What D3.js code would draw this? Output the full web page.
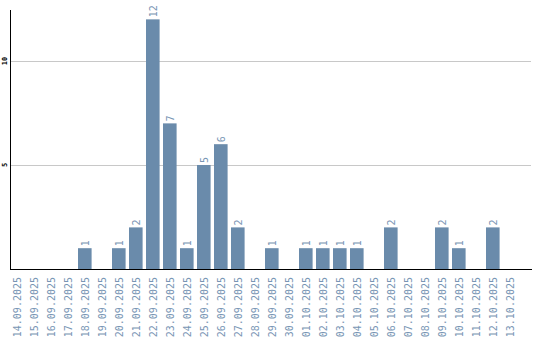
<!DOCTYPE html>
<html>
<head>
<meta charset="utf-8">
<script src="https://cdn.jsdelivr.net/npm/d3@7"></script>
<style>
  body { margin: 0; background: #fff; }
  svg { display: block; }
  .lbl { font-family: "DejaVu Sans Mono", monospace; font-size: 10px; fill: #7895b4; }
  .ytick { font-family: "DejaVu Sans Mono", monospace; font-size: 7px; font-weight: bold; fill: #000; }
</style>
</head>
<body>
<div id="chart"></div>
<script>
/* Data ***********************************************************************/

var dates = ['14.09.2025', '15.09.2025', '16.09.2025', '17.09.2025', '18.09.2025',
             '19.09.2025', '20.09.2025', '21.09.2025', '22.09.2025', '23.09.2025',
             '24.09.2025', '25.09.2025', '26.09.2025', '27.09.2025', '28.09.2025',
             '29.09.2025', '30.09.2025', '01.10.2025', '02.10.2025', '03.10.2025',
             '04.10.2025', '05.10.2025', '06.10.2025', '07.10.2025', '08.10.2025',
             '09.10.2025', '10.10.2025', '11.10.2025', '12.10.2025', '13.10.2025'];

var counts = [0, 0, 0, 0, 1, 0, 1, 2, 12, 7,
              1, 5, 6, 2, 0, 1, 0, 1, 1, 1,
              1, 0, 2, 0, 0, 2, 1, 0, 2, 0];

var ytick_values = [5, 10];

/* Plot ***********************************************************************/

function build_plot()
{
    let width = 540,
        height = 340,
        left = 10,
        base = 269,
        top = 10,
        right = 532;

    let svg = d3.select('#chart').append('svg')
        .attr('width', width)
        .attr('height', height);

    let x = d3.scaleBand()
        .domain(dates)
        .range([left, 516.6])
        .paddingInner(0.2)
        .paddingOuter(0);

    let y = d3.scaleLinear()
        .domain([0, 12.45])
        .range([base, top]);

    // grid lines
    svg.append('g').selectAll('line').data(ytick_values).enter()
        .append('line')
        .attr('x1', left).attr('x2', right - 1)
        .attr('y1', d => Math.round(y(d)) + 0.5)
        .attr('y2', d => Math.round(y(d)) + 0.5)
        .attr('stroke', '#c8c8c8');

    // bars
    let data = dates.map((d, i) => ({ date: d, n: counts[i] }));

    svg.append('g').selectAll('rect').data(data.filter(d => d.n > 0)).enter()
        .append('rect')
        .attr('x', d => x(d.date))
        .attr('y', d => y(d.n))
        .attr('width', x.bandwidth())
        .attr('height', d => base - y(d.n))
        .attr('fill', '#6a8bab');

    // value labels
    svg.append('g').selectAll('text').data(data.filter(d => d.n > 0)).enter()
        .append('text')
        .attr('class', 'lbl')
        .attr('transform', d => `translate(${x(d.date) + x.bandwidth() / 2 + 4}, ${y(d.n) - 2}) rotate(-90)`)
        .text(d => d.n);

    // y axis line
    svg.append('line')
        .attr('x1', left + 0.5).attr('x2', left + 0.5)
        .attr('y1', top).attr('y2', base + 1)
        .attr('stroke', '#000');

    // x axis line
    svg.append('line')
        .attr('x1', left).attr('x2', right)
        .attr('y1', base + 0.5).attr('y2', base + 0.5)
        .attr('stroke', '#000');

    // y tick labels
    svg.append('g').selectAll('text').data(ytick_values).enter()
        .append('text')
        .attr('class', 'ytick')
        .attr('text-anchor', 'middle')
        .attr('transform', d => `translate(6.5, ${y(d)}) rotate(-90)`)
        .text(d => d);

    // x tick labels
    svg.append('g').selectAll('text').data(dates).enter()
        .append('text')
        .attr('class', 'lbl')
        .attr('text-anchor', 'end')
        .attr('transform', d => `translate(${x(d) + x.bandwidth() / 2 + 4}, 277) rotate(-90)`)
        .text(d => d);
}

build_plot();
</script>
</body>
</html>
